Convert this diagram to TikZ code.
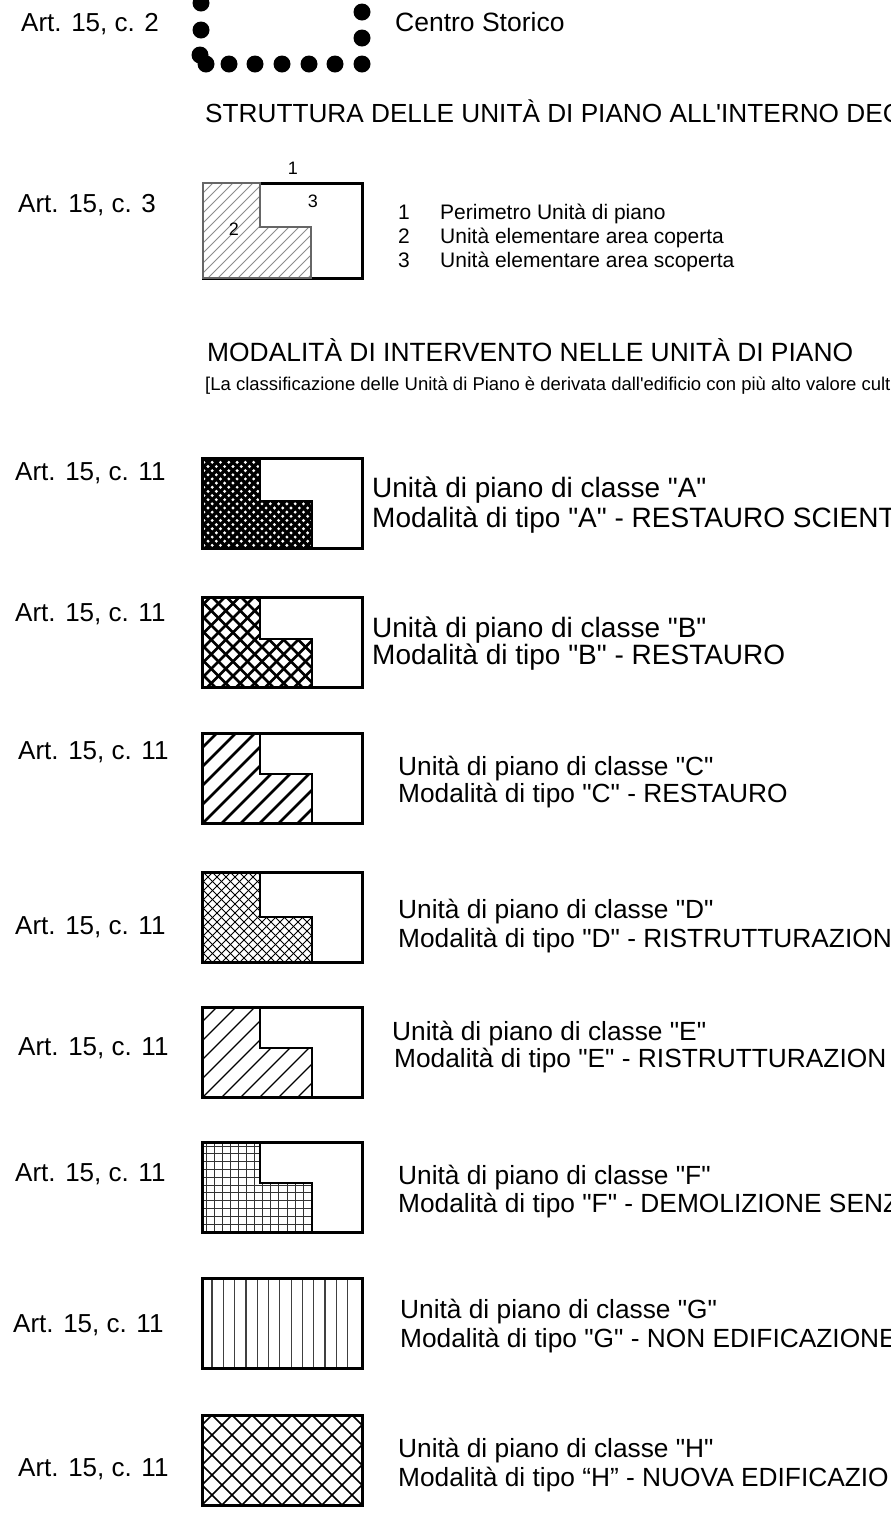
\documentclass[tikz,border=0pt]{standalone}
\usepackage{fontspec}
\setmainfont{Liberation Sans}[Ligatures=TeXOff]
\newcommand\hatchfw[2]{\foreach \k in {-40,...,40}{\draw[#2] ({\k*#1},110) -- ({\k*#1+120},-10);}}
\newcommand\hatchbw[2]{\foreach \k in {-40,...,40}{\draw[#2] ({\k*#1},-10) -- ({\k*#1+120},110);}}
\newcommand\Lpath[1]{(0,0) -- (58,0) -- (58,#1) -- (110,#1) -- (110,90) -- (0,90) -- cycle}
\begin{document}
\begin{tikzpicture}[x=1pt,y=-1pt,
  art/.style={anchor=base west, inner sep=0, font=\fontsize{26}{30}\selectfont},
  big/.style={anchor=base west, inner sep=0, font=\fontsize{28}{32}\selectfont},
  mid/.style={anchor=base west, inner sep=0, font=\fontsize{26.3}{30}\selectfont},
  title/.style={anchor=base west, inner sep=0, font=\fontsize{26.2}{30}\selectfont},
  note/.style={anchor=base west, inner sep=0, font=\fontsize{18.5}{22}\selectfont},
  leg/.style={anchor=base west, inner sep=0, font=\fontsize{21}{24}\selectfont},
  num/.style={inner sep=0, font=\fontsize{18}{22}\selectfont},
  outer/.style={line width=3pt, line join=miter},
  lborder/.style={line width=1.6pt},
  dot/.style={fill=black}]
\useasboundingbox (0,0) rectangle (891,1527);
\fill[white] (0,0) rectangle (891,1527);

% ---- Row 0: Centro Storico
\node[art] (a0) at (21,31) {Art. 15, c. 2};
\foreach \p in {(201,3),(201,30),(200,55),(206,64),(229,64),(255,64),(282,64),(309,64),(335,64),(362,64),(362,38),(362,12)}
  \fill[dot] \p circle[radius=8.5pt];
\node[art, font=\fontsize{26.5}{30}\selectfont] (cs) at (395,31) {Centro Storico};

% ---- Row 3: struttura
\node[title] (t1) at (205,122) {STRUTTURA DELLE UNITÀ DI PIANO ALL'INTERNO DEG};
\node[art] (a3) at (18,212) {Art. 15, c. 3};
\begin{scope}[shift={(203,183)}]
  \draw[outer] (0,0) rectangle (159,95);
  \begin{scope}
    \clip (0,0) -- (57,0) -- (57,44) -- (108,44) -- (108,95) -- (0,95) -- cycle;
    \fill[white] (0,0) rectangle (108,95);
    \hatchfw{10}{line width=0.9pt, gray!90}
  \end{scope}
  \draw[line width=2.6pt, gray!80!black, line join=miter] (0,0) -- (57,0) -- (57,44) -- (108,44) -- (108,95) -- (0,95) -- cycle;
\end{scope}
\node[num] (n1) at (293,168) {1};
\node[num] (n3) at (313,201) {3};
\node[num] (n2) at (234,229) {2};
\node[leg] (l1n) at (398,219) {1};
\node[leg] (l1) at (440,219) {Perimetro Unità di piano};
\node[leg] (l2n) at (398,243) {2};
\node[leg] (l2) at (440,243) {Unità elementare area coperta};
\node[leg] (l3n) at (398,267) {3};
\node[leg] (l3) at (440,267) {Unità elementare area scoperta};

\node[title, font=\fontsize{26.4}{30}\selectfont] (t2) at (207,361) {MODALITÀ DI INTERVENTO NELLE UNITÀ DI PIANO};
\node[note] (t3) at (205,390) {[La classificazione delle Unità di Piano è derivata dall'edificio con più alto valore cult};

% ---- A
\node[art] (aA) at (15,480) {Art. 15, c. 11};
\begin{scope}[shift={(202,458)}]
  \begin{scope}\clip \Lpath{43}; \hatchfw{8.3}{line width=3.3pt} \hatchbw{8.3}{line width=3.3pt}\end{scope}
  \draw[lborder] \Lpath{43};
  \draw[outer] (0,0) rectangle (160,90);
\end{scope}
\node[big] (uA) at (372,497) {Unità di piano di classe "A"};
\node[big] (mA) at (372,527) {Modalità di tipo "A" - RESTAURO SCIENT};

% ---- B
\node[art] (aB) at (15,621) {Art. 15, c. 11};
\begin{scope}[shift={(202,597)}]
  \begin{scope}\clip \Lpath{42}; \hatchfw{14.5}{line width=2.8pt} \hatchbw{14.5}{line width=2.8pt}\end{scope}
  \draw[lborder] \Lpath{42};
  \draw[outer] (0,0) rectangle (160,90);
\end{scope}
\node[big] (uB) at (372,637) {Unità di piano di classe "B"};
\node[big] (mB) at (372,664) {Modalità di tipo "B" - RESTAURO};

% ---- C
\node[art] (aC) at (18,759) {Art. 15, c. 11};
\begin{scope}[shift={(202,733)}]
  \begin{scope}\clip \Lpath{41}; \hatchfw{19}{line width=2.8pt}\end{scope}
  \draw[lborder] \Lpath{41};
  \draw[outer] (0,0) rectangle (160,90);
\end{scope}
\node[mid] (uC) at (398,775) {Unità di piano di classe "C"};
\node[mid] (mC) at (398,802) {Modalità di tipo "C" - RESTAURO};

% ---- D
\node[art] (aD) at (15,934) {Art. 15, c. 11};
\begin{scope}[shift={(202,872)}]
  \begin{scope}\clip \Lpath{45}; \hatchfw{9}{line width=1pt} \hatchbw{9}{line width=1pt}\end{scope}
  \draw[lborder] \Lpath{45};
  \draw[outer] (0,0) rectangle (160,90);
\end{scope}
\node[mid] (uD) at (398,918) {Unità di piano di classe "D"};
\node[mid] (mD) at (398,947) {Modalità di tipo "D" - RISTRUTTURAZION};

% ---- E
\node[art] (aE) at (18,1055) {Art. 15, c. 11};
\begin{scope}[shift={(202,1007)}]
  \begin{scope}\clip \Lpath{41}; \hatchfw{19}{line width=1.1pt}\end{scope}
  \draw[lborder] \Lpath{41};
  \draw[outer] (0,0) rectangle (160,90);
\end{scope}
\node[mid] (uE) at (392,1040) {Unità di piano di classe "E"};
\node[mid] (mE) at (394,1067) {Modalità di tipo "E" - RISTRUTTURAZION};

% ---- F
\node[art] (aF) at (15,1181) {Art. 15, c. 11};
\begin{scope}[shift={(202,1142)}]
  \begin{scope}\clip \Lpath{41};
    \foreach \k in {0,...,14} \draw[line width=1pt, black!80] ({4+\k*8.1},-5) -- ({4+\k*8.1},95);
    \foreach \k in {0,...,12} \draw[line width=1pt, black!80] (-5,{4+\k*7.8}) -- (115,{4+\k*7.8});
  \end{scope}
  \draw[lborder] \Lpath{41};
  \draw[outer] (0,0) rectangle (160,90);
\end{scope}
\node[mid] (uF) at (398,1184) {Unità di piano di classe "F"};
\node[mid] (mF) at (398,1212) {Modalità di tipo "F" - DEMOLIZIONE SENZ};

% ---- G
\node[art] (aG) at (13,1332) {Art. 15, c. 11};
\begin{scope}[shift={(202,1278)}]
  \foreach \k in {0,...,12} \draw[line width=1.2pt, black!75] ({10+\k*11.3},0) -- ({10+\k*11.3},90);
  \draw[outer] (0,0) rectangle (160,90);
\end{scope}
\node[mid] (uG) at (400,1318) {Unità di piano di classe "G"};
\node[mid] (mG) at (400,1347) {Modalità di tipo "G" - NON EDIFICAZIONE};

% ---- H
\node[art] (aH) at (18,1476) {Art. 15, c. 11};
\begin{scope}[shift={(202,1415)}]
  \begin{scope}\clip (0,0) rectangle (160,90);
    \foreach \k in {-40,...,40}{\draw[line width=1.6pt] ({\k*20},-10) -- ({\k*20+120},110);}
    \foreach \k in {-40,...,40}{\draw[line width=1.6pt] ({\k*20},110) -- ({\k*20+120},-10);}
  \end{scope}
  \draw[outer] (0,0) rectangle (160,90);
\end{scope}
\node[mid] (uH) at (398,1457) {Unità di piano di classe "H"};
\node[mid] (mH) at (398,1486) {Modalità di tipo “H” - NUOVA EDIFICAZIO};
\end{tikzpicture}
\end{document}
